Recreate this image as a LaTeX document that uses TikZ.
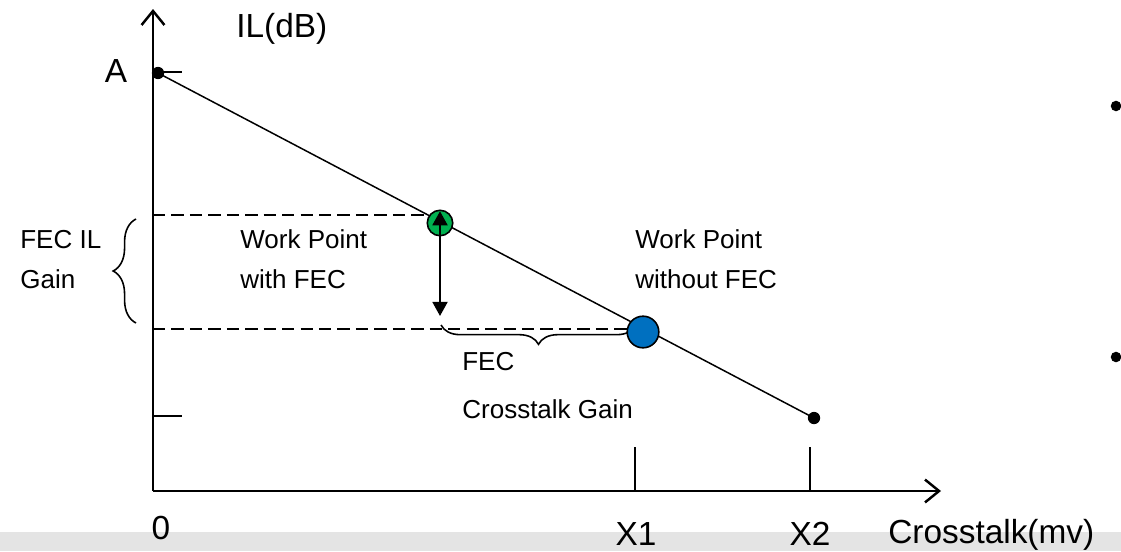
\documentclass[tikz,border=0pt]{standalone}
\usepackage{fontspec}
\setmainfont{Liberation Sans}
\usetikzlibrary{arrows.meta,decorations.pathreplacing,backgrounds}
\definecolor{fecGreen}{RGB}{0,176,80}
\definecolor{noFecBlue}{RGB}{0,112,192}
\definecolor{bandGray}{RGB}{228,228,228}
\tikzset{
  axisline/.style={line width=1.6pt,
    -{Straight Barb[length=8pt,width=13pt,line width=1.4pt]}},
  tickline/.style={line width=1.6pt},
  ilcurve/.style={line width=0.85pt},
  dashline/.style={line width=0.85pt,dash pattern=on 7pt off 3.5pt},
  dot/.style={circle,fill=black,inner sep=0pt,minimum size=7pt},
  wp/.style={circle,draw=black,line width=0.9pt,inner sep=0pt},
  lbl/.style={font=\fontsize{14.8}{16}\selectfont,inner sep=0pt,anchor=base west},
  biglbl/.style={font=\fontsize{19}{22}\selectfont,inner sep=0pt},
  gainarr/.style={{Triangle[length=8pt,width=8.5pt]}-{Triangle[length=8pt,width=8.5pt]},
    line width=1.2pt},
  gainbrace/.style={decorate,decoration={brace,amplitude=#1},line width=0.9pt},
}

\begin{document}
\begin{tikzpicture}[x=0.02cm,y=-0.02cm]
\useasboundingbox (0,0) rectangle (1121,551);

% =====================================================================
%  AXES
% =====================================================================
\coordinate (o)    at (153,491);
\coordinate (ytop) at (153,9);
\coordinate (xend) at (941,491);
\draw[axisline] (o) -- (ytop);
\draw[axisline] (o) -- (xend);

% --- ticks ---
\coordinate (tA)  at (153,72);
\coordinate (tB)  at (153,416);
\coordinate (tX1) at (635,491);
\coordinate (tX2) at (810,491);
\draw[tickline] (tA) -- ++(29,0);
\draw[tickline] (tB) -- ++(29,0);
\draw[tickline] (tX1) -- ++(0,-44);
\draw[tickline] (tX2) -- ++(0,-44);

% --- axis labels ---
\node[biglbl,anchor=west]      (ylab) at (236,29)  {IL(dB)};
\node[biglbl]                  (alab) at (116,71)  {A};
\node[biglbl,anchor=base]      (zlab) at (161,539) {0};
\node[biglbl,anchor=base]      (x1lab) at (636,545) {X1};
\node[biglbl,anchor=base]      (x2lab) at (810,545) {X2};
\node[biglbl,anchor=base west] (xlab) at (888,543) {Crosstalk(mv)};

% =====================================================================
%  IL vs crosstalk line
% =====================================================================
\node[dot] (ptA)  at (158,73) {};
\node[dot] (ptX2) at (814,418) {};
\draw[ilcurve] (ptA.center) -- (ptX2.center);

% --- dashed levels ---
\coordinate (ilTop) at (153,215);
\coordinate (ilBot) at (153,329);
\draw[dashline] (ilTop) -- (430,215);
\draw[dashline] (ilBot) -- (632,329);

% --- braces ---
\draw[gainbrace=13pt] (136,323) -- (136,219);
\draw[gainbrace=11pt] (636,325) -- (441,325);

% --- work points ---
\node[wp,fill=fecGreen,minimum size=14.5pt]   (wpFEC)   at (440,223) {};
\node[wp,fill=noFecBlue,minimum size=18pt]    (wpNoFEC) at (643,332) {};
\coordinate (gainEnd) at (440,316);
\draw[gainarr,shorten <=1pt] (wpFEC.north) -- (gainEnd);

% =====================================================================
%  LABELS
% =====================================================================
\node[lbl] (ilg1) at (20,248)  {FEC IL};
\node[lbl] (ilg2) at (20,288)  {Gain};
\node[lbl] (wf1)  at (240,248) {Work Point};
\node[lbl] (wf2)  at (240,288) {with FEC};
\node[lbl] (wn1)  at (635,248) {Work Point};
\node[lbl] (wn2)  at (635,288) {without FEC};
\node[lbl] (xg1)  at (462,370) {FEC};
\node[lbl] (xg2)  at (462,418) {Crosstalk Gain};

% --- bullets at right edge ---
\node[dot,minimum size=6pt] (b1) at (1116,106) {};
\node[dot,minimum size=6pt] (b2) at (1116,357) {};

% =====================================================================
%  BACKGROUND BAND
% =====================================================================
\begin{scope}[on background layer]
  \fill[bandGray] (0,532) rectangle (1121,551);
\end{scope}

\end{tikzpicture}
\end{document}
